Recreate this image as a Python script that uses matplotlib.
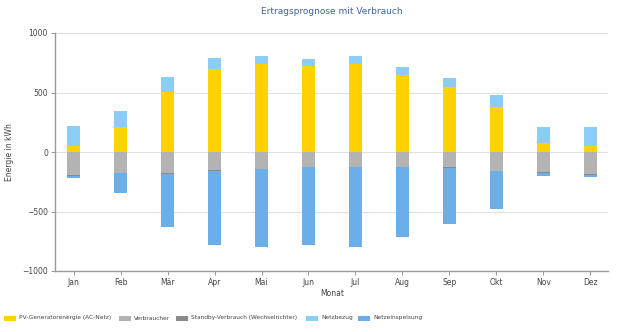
import matplotlib
matplotlib.use("Agg")
import matplotlib.pyplot as plt
from matplotlib.patches import Rectangle
import numpy as np

months = ["Jan", "Feb", "Mär", "Apr", "Mai", "Jun", "Jul", "Aug", "Sep", "Okt", "Nov", "Dez"]
pv = [50, 210, 504, 697, 737, 725, 742, 650, 546, 381, 73, 53]
netzbezug = [171, 137, 129, 90, 70, 56, 65, 62, 73, 101, 134, 160]
verbraucher = [-195, -177, -180, -155, -144, -127, -127, -127, -130, -158, -172, -186]
standby = [-4, -3, -3, -3, -3, -3, -3, -3, -3, -3, -4, -4]
netzeinspeisung = [-22, -162, -445, -621, -654, -649, -666, -582, -476, -316, -23, -17]
series_names = ["PV-Generatorenergie (AC-Netz)", "Verbraucher", "Standby-Verbrauch (Wechselrichter)",
                "Netzbezug", "Netzeinspeisung"]

c_pv = "#FFD200"
c_verb = "#B3B3B3"
c_stand = "#8A8A8A"
c_bez = "#8CCDF8"
c_ein = "#6CAEE8"
colors = [c_pv, c_verb, c_stand, c_bez, c_ein]

W, H = 620, 332
fig = plt.figure(figsize=(6.2, 3.32), dpi=100)
ax = fig.add_axes([55/W, 1-271/H, (608-55)/W, (271-33)/H])

x = np.arange(len(months))
w = 0.28
pv_a = np.array(pv); bez_a = np.array(netzbezug)
verb_a = np.array(verbraucher); st_a = np.array(standby); ein_a = np.array(netzeinspeisung)

ax.bar(x, pv_a, w, color=c_pv, zorder=3)
ax.bar(x, verb_a, w, color=c_verb, zorder=3)
ax.bar(x, st_a, w, bottom=verb_a, color=c_stand, zorder=3)
ax.bar(x, bez_a, w, bottom=pv_a, color=c_bez, zorder=3)
ax.bar(x, ein_a, w, bottom=verb_a + st_a, color=c_ein, zorder=3)

ax.set_xlim(-0.4, 11.38)
ax.set_ylim(-1000, 1000)
ax.set_yticks([-1000, -500, 0, 500, 1000])
ax.set_xticks(x)
ax.set_xticklabels(months)
ax.tick_params(axis="both", labelsize=5.5, length=3, width=0.6, pad=2, color="#888888")
for t in ax.get_yticklabels() + ax.get_xticklabels():
    t.set_color("#444444")

ax.grid(axis="y", color="#E0E0E0", linewidth=0.8, zorder=0)
for s in ["top", "right"]:
    ax.spines[s].set_visible(False)
for s in ["left", "bottom"]:
    ax.spines[s].set_color("#999999")
    ax.spines[s].set_linewidth(1.0)

fig.text(10/W, 1-152/H, "Energie in kWh", rotation=90, ha="center", va="center",
         fontsize=5.5, color="#444444")
fig.text(332/W, 1-293/H, "Monat", ha="center", va="center", fontsize=5.5, color="#444444")
fig.text(332/W, 1-12/H, "Ertragsprognose mit Verbrauch", ha="center", va="center",
         fontsize=6.5, color="#3D6496")

# legend, placed manually
marker_x = [4, 119, 176, 306, 358]
yc = 318
for mx, col, name in zip(marker_x, colors, series_names):
    fig.patches.append(Rectangle((mx/W, (H-yc-2.5)/H), 12/W, 5/H, transform=fig.transFigure,
                                 facecolor=col, edgecolor="none"))
    fig.text((mx+15)/W, 1-yc/H, name, ha="left", va="center", fontsize=4.25, color="#444444")

fig.savefig("out.png", dpi=100)
